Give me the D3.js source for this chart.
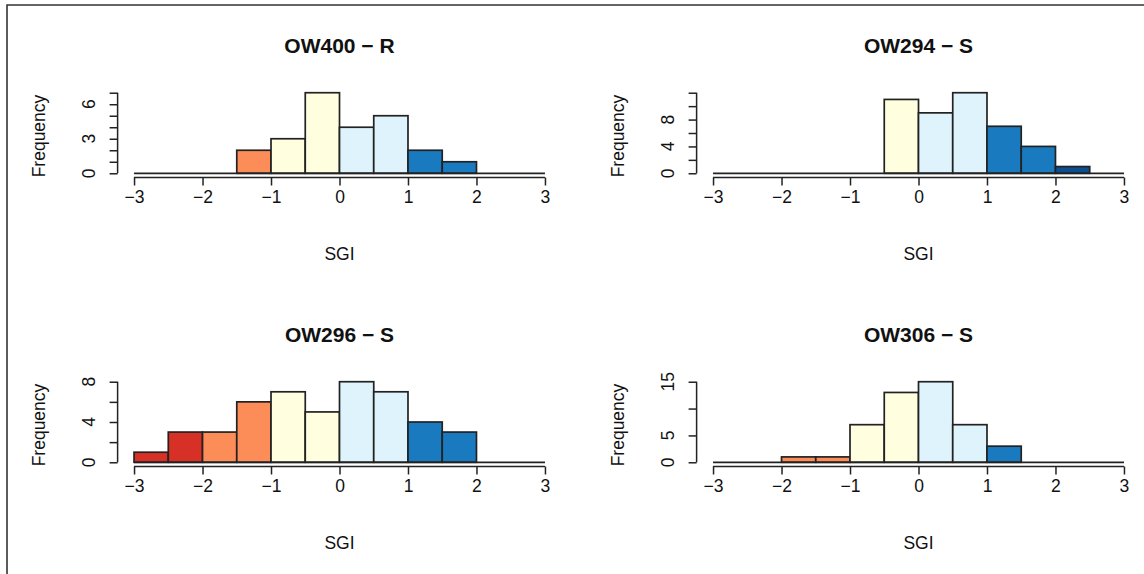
<!DOCTYPE html>
<html>
<head>
<meta charset="utf-8">
<script src="https://cdn.jsdelivr.net/npm/d3@7"></script>
<style>
  html, body { margin: 0; padding: 0; background: #fff; }
  svg { display: block; font-family: "Liberation Sans", Arial, Helvetica, sans-serif; }
</style>
</head>
<body>
<svg id="chart" width="1144" height="574"></svg>
<script>
// Histogram bin edges shared by every panel (SGI, width 0.5)
const breaks = [-3, -2.5, -2, -1.5, -1, -0.5, 0, 0.5, 1, 1.5, 2, 2.5, 3];

// Panel titles
const titles = ["OW400 \u2212 R", "OW294 \u2212 S", "OW296 \u2212 S", "OW306 \u2212 S"];

// Frequency per bin for each well
const countsOW400 = [0, 0, 0, 2, 3, 7, 4, 5, 2, 1, 0, 0];
const countsOW294 = [0, 0, 0, 0, 0, 11, 9, 12, 7, 4, 1, 0];
const countsOW296 = [1, 3, 3, 6, 7, 5, 8, 7, 4, 3, 0, 0];
const countsOW306 = [0, 0, 1, 1, 7, 13, 15, 7, 3, 0, 0, 0];

// Upper end of each y axis
const yMax = [7, 12, 8, 15];

// Y axis tick positions and the labels shown on them
const yTicks = [
  [0, 1, 2, 3, 4, 5, 6, 7],
  [0, 2, 4, 6, 8, 10, 12],
  [0, 2, 4, 6, 8],
  [0, 5, 10, 15]
];
const yTickLabels = [
  [0, 3, 6],
  [0, 4, 8],
  [0, 4, 8],
  [0, 5, 15]
];

// X axis ticks
const xTicks = [-3, -2, -1, 0, 1, 2, 3];

// SGI classes: upper bounds and their fill colours
const classBounds = [-2, -1, 0, 1, 2];
const classColors = ["#d73027", "#fc8d59", "#ffffe0", "#dff3fc", "#1a7abf", "#0b4f92"];

const allCounts = [countsOW400, countsOW294, countsOW296, countsOW306];

const svg = d3.select("#chart");
const colorOf = d3.scaleThreshold().domain(classBounds).range(classColors);
const fmt = v => String(v).replace("-", "\u2212");

const axisFont = 17.5;
const titleFont = 21;

// Outer frame
svg.append("path")
  .attr("d", "M7,574 V5 H1144")
  .attr("fill", "none")
  .attr("stroke", "#333")
  .attr("stroke-width", 1.6);

const colStep = 579, rowStep = 289;
const plotW = 443.8, plotH = 87;

allCounts.forEach((counts, i) => {
  const col = i % 2, row = Math.floor(i / 2);
  const left = 117.6 + col * colStep;
  const right = left + plotW;
  const bottom = 176.5 + row * rowStep;
  const top = bottom - plotH;
  const ym = yMax[i];

  const x = d3.scaleLinear().domain([-3.24, 3.24]).range([left, right]);
  const y = d3.scaleLinear().domain([-0.04 * ym, 1.04 * ym]).range([bottom, top]);

  const g = svg.append("g");

  const bins = counts.map((c, k) => ({ x0: breaks[k], x1: breaks[k + 1], n: c }));

  // Bars
  g.selectAll("rect.bar")
    .data(bins)
    .join("rect")
    .attr("class", "bar")
    .attr("x", d => x(d.x0))
    .attr("width", d => x(d.x1) - x(d.x0))
    .attr("y", d => y(d.n))
    .attr("height", d => y(0) - y(d.n))
    .attr("fill", d => colorOf((d.x0 + d.x1) / 2))
    .attr("stroke", "#222")
    .attr("stroke-width", 1.7);

  // Zero line along the bin range
  g.append("line")
    .attr("x1", x(breaks[0])).attr("x2", x(breaks[breaks.length - 1]))
    .attr("y1", y(0)).attr("y2", y(0))
    .attr("stroke", "#222")
    .attr("stroke-width", 1.7);

  // X axis
  const xAxis = d3.axisBottom(x).tickValues(xTicks).tickSize(8).tickSizeOuter(0).tickPadding(5).tickFormat(fmt);
  const gx = g.append("g")
    .attr("transform", `translate(0,${bottom + 1})`)
    .call(xAxis);
  gx.select(".domain").attr("d", `M${x(-3)},0H${x(3)}`).attr("stroke", "#222").attr("stroke-width", 1.5);
  gx.selectAll(".tick line").attr("stroke", "#222").attr("stroke-width", 1.5);
  gx.selectAll(".tick text").attr("font-size", axisFont).attr("fill", "#111")
    .attr("font-family", "Liberation Sans, Arial, sans-serif");

  // Y axis
  const yAxis = d3.axisLeft(y).tickValues(yTicks[i]).tickSize(8).tickSizeOuter(0).tickFormat("");
  const gy = g.append("g")
    .attr("transform", `translate(${left},0)`)
    .call(yAxis);
  gy.select(".domain").attr("d", `M0,${y(0)}V${y(ym)}`).attr("stroke", "#222").attr("stroke-width", 1.5);
  gy.selectAll(".tick line").attr("stroke", "#222").attr("stroke-width", 1.5);

  g.selectAll("text.ylab")
    .data(yTickLabels[i])
    .join("text")
    .attr("class", "ylab")
    .attr("transform", d => `translate(${left - 23},${y(d)}) rotate(-90)`)
    .attr("text-anchor", "middle")
    .attr("font-size", axisFont)
    .attr("fill", "#111")
    .text(d => d);

  // Axis titles
  g.append("text")
    .attr("transform", `translate(${left - 73},${(y(0) + y(ym)) / 2 + 3}) rotate(-90)`)
    .attr("text-anchor", "middle")
    .attr("font-size", axisFont)
    .attr("fill", "#111")
    .text("Frequency");

  g.append("text")
    .attr("x", (left + right) / 2)
    .attr("y", bottom + 83)
    .attr("text-anchor", "middle")
    .attr("font-size", axisFont)
    .attr("fill", "#111")
    .text("SGI");

  // Panel title
  g.append("text")
    .attr("x", (left + right) / 2)
    .attr("y", top - 37)
    .attr("text-anchor", "middle")
    .attr("font-size", titleFont)
    .attr("font-weight", "bold")
    .attr("fill", "#111")
    .text(titles[i]);
});
</script>
</body>
</html>
